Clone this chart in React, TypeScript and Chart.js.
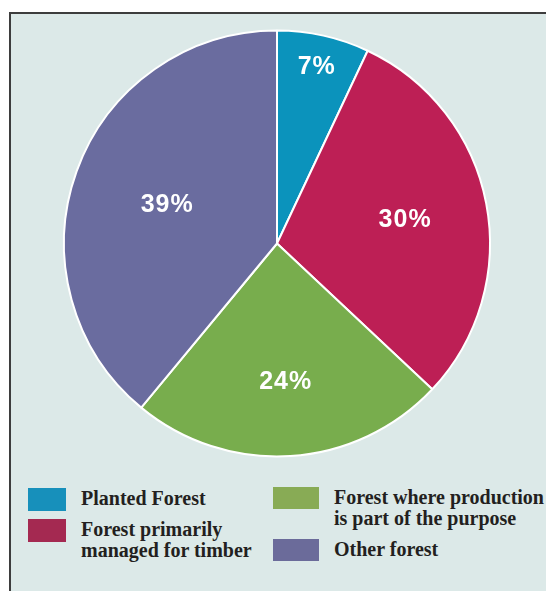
import React, { useEffect, useRef } from "react";
import { Chart, registerables } from "chart.js";

Chart.register(...registerables);

const categories: string[][] = [
  ["Planted Forest"],
  ["Forest primarily", "managed for timber"],
  ["Forest where production", "is part of the purpose"],
  ["Other forest"],
];
const shares = [7, 30, 24, 39];
const sliceColors = ["#0b93bc", "#bd1f55", "#78ad4d", "#6a6c9f"];
const swatchColors = ["#1790bb", "#a42951", "#88ab55", "#6b6b9a"];

const pctLabelPlugin = {
  id: "pctLabels",
  afterDatasetsDraw(chart: any) {
    const ctx = chart.ctx;
    const meta = chart.getDatasetMeta(0);
    const data = chart.data.datasets[0].data as number[];
    const total = data.reduce((a, b) => a + b, 0);
    ctx.save();
    ctx.fillStyle = "#ffffff";
    ctx.font = "bold 25px 'Liberation Sans'";
    try {
      (ctx as any).letterSpacing = "1px";
    } catch (e) {}
    ctx.textAlign = "center";
    ctx.textBaseline = "middle";
    meta.data.forEach((arc: any, i: number) => {
      const { x, y, startAngle, endAngle, outerRadius } = arc.getProps(
        ["x", "y", "startAngle", "endAngle", "outerRadius"],
        true
      );
      const mid = (startAngle + endAngle) / 2;
      const half = (endAngle - startAngle) / 2;
      const pct = (data[i] / total) * 100;
      // sector centroid, pushed slightly outward; thin slices near the rim
      const frac = pct < 10 ? 0.855 : ((2 * Math.sin(half)) / (3 * half)) * 1.07;
      const r = outerRadius * frac;
      ctx.fillText(`${data[i]}%`, x + Math.cos(mid) * r, y + Math.sin(mid) * r + 1);
    });
    ctx.restore();
  },
};

function LegendColumn({
  items,
  left,
  top,
  swW,
  swH,
  textLeft,
}: {
  items: number[];
  left: number;
  top: number;
  swW: number;
  swH: number;
  textLeft: number;
}) {
  return (
    <div style={{ position: "absolute", left, top }}>
      {items.map((i, k) => (
        <div
          key={i}
          style={{
            position: "relative",
            marginTop: k === 0 ? 0 : 10,
            height: categories[i].length * 21,
          }}
        >
          <div
            style={{
              position: "absolute",
              left: 0,
              top: 0,
              width: swW,
              height: swH,
              background: swatchColors[i],
            }}
          />
          <div
            style={{
              position: "absolute",
              left: textLeft - left,
              top: 0,
              whiteSpace: "nowrap",
              font: "bold 20px 'Liberation Serif'",
              lineHeight: "21px",
              color: "#231f20",
            }}
          >
            {categories[i].map((line, j) => (
              <div key={j}>{line}</div>
            ))}
          </div>
        </div>
      ))}
    </div>
  );
}

export default function App() {
  const canvasRef = useRef<HTMLCanvasElement | null>(null);

  useEffect(() => {
    if (!canvasRef.current) return;
    const chart = new Chart(canvasRef.current, {
      type: "pie",
      data: {
        labels: categories,
        datasets: [
          {
            data: shares,
            backgroundColor: sliceColors,
            borderColor: "#ffffff",
            borderWidth: 2,
          },
        ],
      },
      options: {
        responsive: false,
        animation: false,
        devicePixelRatio: 1,
        layout: { padding: { left: 63, right: 55, top: 29.5, bottom: 12.5 } },
        plugins: {
          legend: { display: false },
          tooltip: { enabled: false },
        },
      },
      plugins: [pctLabelPlugin],
    });
    return () => chart.destroy();
  }, []);

  return (
    <div
      style={{
        position: "fixed",
        left: 0,
        top: 0,
        width: 546,
        height: 591,
        overflow: "hidden",
        background: "#ffffff",
      }}
    >
      <div
        style={{
          position: "absolute",
          left: 9,
          top: 12,
          width: 620,
          height: 620,
          background: "#dce9e8",
          borderLeft: "2px solid #3d3d3d",
          borderTop: "2px solid #3d3d3d",
        }}
      />
      <canvas
        ref={canvasRef}
        width={546}
        height={470}
        style={{ position: "absolute", left: 0, top: 0, width: 546, height: 470 }}
      />
      <LegendColumn items={[0, 1]} left={28} top={488} swW={38} swH={23} textLeft={81} />
      <LegendColumn items={[2, 3]} left={273} top={487} swW={46} swH={22} textLeft={334} />
    </div>
  );
}
